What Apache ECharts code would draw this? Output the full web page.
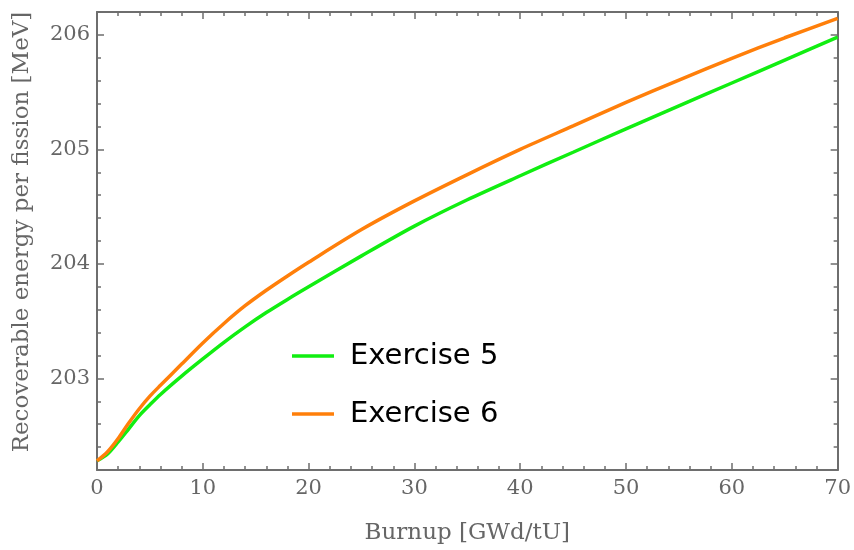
<!DOCTYPE html>
<html>
<head>
<meta charset="utf-8">
<script src="https://cdn.jsdelivr.net/npm/echarts@6/dist/echarts.min.js"></script>
<style>html,body{margin:0;padding:0;background:#fff}#c{width:854px;height:550px}</style>
</head>
<body>
<div id="c"></div>
<script>
const burnup = [0, 1, 2, 3, 4, 5, 6, 8, 10, 12, 14, 16, 18, 20, 25, 30, 35, 40, 45, 50, 55, 60, 65, 70];
const exercise5 = [202.28, 202.34, 202.445, 202.56, 202.675, 202.77, 202.86, 203.02, 203.17, 203.315, 203.45, 203.575, 203.69, 203.80, 204.07, 204.33, 204.56, 204.77, 204.975, 205.18, 205.38, 205.58, 205.78, 205.98];
const exercise6 = [202.28, 202.36, 202.475, 202.61, 202.735, 202.845, 202.94, 203.125, 203.31, 203.48, 203.635, 203.77, 203.895, 204.015, 204.30, 204.55, 204.78, 205.00, 205.205, 205.41, 205.605, 205.795, 205.975, 206.145];
const seriesNames = ['Exercise 5', 'Exercise 6'];
const yMajorTicks = [203, 204, 205, 206];
const yMinorTicks = [202.4, 202.6, 202.8, 203.2, 203.4, 203.6, 203.8, 204.2, 204.4, 204.6, 204.8, 205.2, 205.4, 205.6, 205.8, 206.2];
const xTitle = 'Burnup [GWd/tU]';
const yTitle = 'Recoverable energy per fission [MeV]';

const axisColor = '#6e6e6e';
const labelFont = { fontFamily: 'DejaVu Serif', fontSize: 21, color: '#666' };
const titleFont = { fontFamily: 'DejaVu Serif', fontSize: 23, color: '#666' };

function xAx(pos, showLabel) {
  return {
    type: 'value', position: pos, min: 0, max: 70, interval: 10,
    axisLine: { show: true, onZero: false, lineStyle: { color: axisColor, width: 2 } },
    axisTick: { show: true, inside: true, length: 7, lineStyle: { color: axisColor, width: 1.5 } },
    minorTick: { show: true, splitNumber: 5, length: 4, lineStyle: { color: axisColor, width: 1.5 } },
    axisLabel: Object.assign({ show: showLabel, margin: 8 }, labelFont),
    splitLine: { show: false },
    name: showLabel ? xTitle : '', nameLocation: 'middle', nameGap: 52,
    nameTextStyle: titleFont
  };
}
function yAx(pos, major, line, showLabel) {
  return {
    type: 'value', position: pos, min: 202.2, max: 206.2,
    axisLine: { show: line, onZero: false, lineStyle: { color: axisColor, width: 2 } },
    axisTick: { show: true, inside: true, length: major ? 7 : 4, customValues: major ? yMajorTicks : yMinorTicks, lineStyle: { color: axisColor, width: 1.5 } },
    axisLabel: Object.assign({ show: showLabel, margin: 7, customValues: yMajorTicks, formatter: v => String(Math.round(v)) }, labelFont),
    splitLine: { show: false },
    name: showLabel ? yTitle : '', nameLocation: 'middle', nameGap: 63,
    nameTextStyle: Object.assign({ padding: [0, 0, 0, 18] }, titleFont)
  };
}

const chart = echarts.init(document.getElementById('c'), null, { renderer: 'canvas' });
chart.setOption({
  animation: false,
  backgroundColor: '#fff',
  grid: { left: 97, right: 16, top: 12, bottom: 80, containLabel: false },
  xAxis: [xAx('bottom', true), xAx('top', false)],
  yAxis: [yAx('left', true, true, true), yAx('left', false, false, false), yAx('right', true, true, false), yAx('right', false, false, false)],
  legend: {
    orient: 'vertical', left: 287, top: 336, icon: 'rect', itemWidth: 42, itemHeight: 3.5, itemGap: 28,
    data: seriesNames,
    textStyle: { fontFamily: 'DejaVu Sans', fontSize: 29, lineHeight: 30, color: '#000', padding: [0, 0, 0, 11] }
  },
  series: [
    { name: seriesNames[0], type: 'line', showSymbol: false, symbol: 'none', smooth: 0.3, lineStyle: { color: '#11ee11', width: 3.5 }, itemStyle: { color: '#11ee11' }, data: burnup.map((x, i) => [x, exercise5[i]]) },
    { name: seriesNames[1], type: 'line', showSymbol: false, symbol: 'none', smooth: 0.3, lineStyle: { color: '#ff7f0a', width: 3.5 }, itemStyle: { color: '#ff7f0a' }, data: burnup.map((x, i) => [x, exercise6[i]]) }
  ]
});
</script>
</body>
</html>
